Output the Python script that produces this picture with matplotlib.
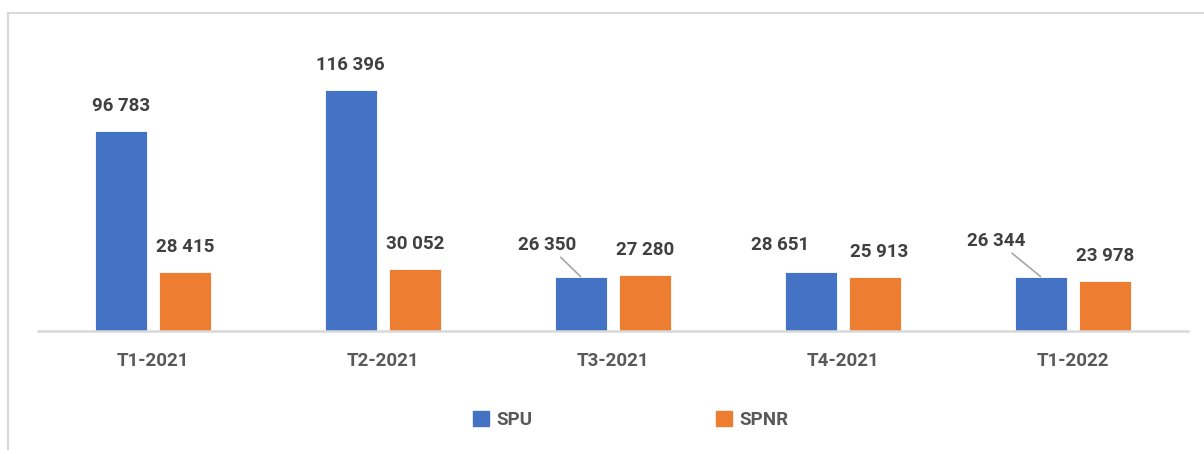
import numpy as np
import matplotlib
matplotlib.use("Agg")
import matplotlib.pyplot as plt
from matplotlib.patches import Patch
from matplotlib.lines import Line2D

# data
periods = ["T1-2021", "T2-2021", "T3-2021", "T4-2021", "T1-2022"]
spu = [96783, 116396, 26350, 28651, 26344]
spnr = [28415, 30052, 27280, 25913, 23978]

# label offsets in pixels (dx, dy) and whether a leader line is drawn
spu_offsets = [(0, 16), (0, 16), (-33, 23), (-31, 18), (-44, 27)]
spu_leader = [False, False, True, False, True]
spnr_offsets = [(0, 16), (0, 16), (0, 16), (4, 16), (0, 16)]

BLUE = "#4472C4"
ORANGE = "#ED7D31"
FS = 13.5

plt.rcParams["font.family"] = ["Roboto", "DejaVu Sans"]

def fmt(v):
    return f"{v:,}".replace(",", " ")

fig = plt.figure(figsize=(12.04, 4.5), dpi=100)
ax = fig.add_axes([38 / 1204, (450 - 331) / 450, 1150 / 1204, 289.3 / 450])

x = np.arange(len(periods))
w = 0.226
off = 0.141
ax.bar(x - off, spu, w, color=BLUE, edgecolor="white", linewidth=0.6)
ax.bar(x + off, spnr, w, color=ORANGE, edgecolor="white", linewidth=0.6)

lab = dict(fontsize=FS, fontweight="bold", color="#404040", ha="center", va="bottom")
for xi, v, (dx, dy), lead in zip(x - off, spu, spu_offsets, spu_leader):
    ap = dict(arrowstyle="-", color="#A6A6A6", lw=1.2, shrinkA=1, shrinkB=0) if lead else None
    ax.annotate(fmt(v), (xi, v), xytext=(dx, dy), textcoords="offset pixels",
                arrowprops=ap, **lab)
for xi, v, (dx, dy) in zip(x + off, spnr, spnr_offsets):
    ax.annotate(fmt(v), (xi, v), xytext=(dx, dy), textcoords="offset pixels", **lab)

ax.set_xlim(-0.5, len(periods) - 0.5)
ax.set_ylim(0, 140000)
ax.set_xticks(x)
ax.set_xticklabels(periods, fontsize=FS, fontweight="bold", color="#595959")
ax.tick_params(axis="x", length=0, pad=15)
ax.set_yticks([])
for s in ["top", "right", "left"]:
    ax.spines[s].set_visible(False)
ax.spines["bottom"].set_color("#D9D9D9")
ax.spines["bottom"].set_linewidth(1.8)

# chart area border (only top and left visible)
fig.add_artist(Line2D([8 / 1204, 8 / 1204], [0, 1 - 13 / 450], transform=fig.transFigure,
                      color="#D9D9D9", lw=1.5))
fig.add_artist(Line2D([8 / 1204, 1], [1 - 13 / 450, 1 - 13 / 450], transform=fig.transFigure,
                      color="#D9D9D9", lw=1.5))

handles = [Patch(color=BLUE, label="SPU"), Patch(color=ORANGE, label="SPNR")]
leg = fig.legend(handles=handles, loc="center", bbox_to_anchor=(0.524, 0.067), ncol=2,
                 frameon=False, handlelength=0.85, handleheight=0.85, handletextpad=0.4,
                 columnspacing=9.8, prop=dict(size=FS, weight="bold"))
for t in leg.get_texts():
    t.set_color("#595959")

fig.savefig("out.png", dpi=100)
